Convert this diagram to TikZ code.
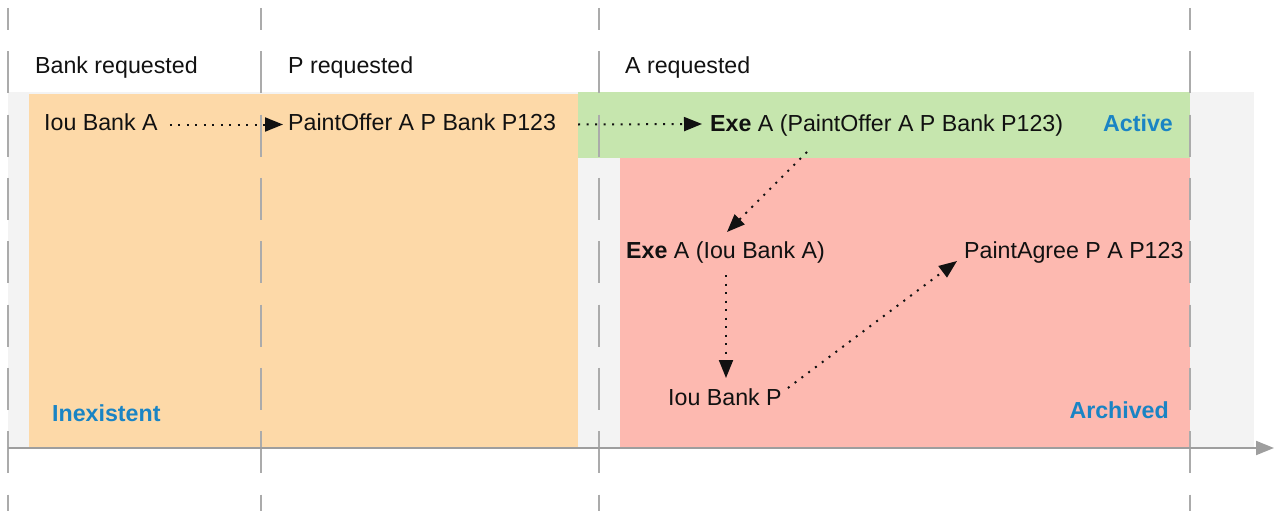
\documentclass[tikz,border=0pt]{standalone}
\usepackage{fontspec}
\setmainfont{Liberation Sans}
\usetikzlibrary{arrows.meta,calc}
\definecolor{bggray}{HTML}{F3F3F3}
\definecolor{orangefill}{HTML}{FDD9A8}
\definecolor{greenfill}{HTML}{C6E6AE}
\definecolor{redfill}{HTML}{FDB9B0}
\definecolor{lblue}{HTML}{1A84C4}
\definecolor{guide}{HTML}{ABABAB}
\definecolor{axisgray}{HTML}{9E9E9E}
\definecolor{ink}{HTML}{111111}
\begin{document}
\begin{tikzpicture}[x=1pt,y=-1pt,
 txt/.style={anchor=base west, inner sep=0pt, font=\fontsize{23.2}{28}\selectfont, text=ink},
 statelabel/.style={anchor=base west, inner sep=0pt, font=\fontsize{23.2}{28}\selectfont\bfseries, text=lblue},
 guideline/.style={draw=guide, line width=1.8pt, dash pattern=on 42pt off 21.33pt, dash phase=20pt},
 flow/.style={draw=ink, line width=2pt, dash pattern=on 2pt off 6.5pt, -{Triangle[length=18pt,width=14pt]}},
 axisline/.style={draw=axisgray, line width=2pt, -{Triangle[length=18pt,width=14pt]}}]
\useasboundingbox (0,0) rectangle (1274,511);
% regions
\fill[bggray] (8,92) rectangle (1254,448);
\fill[orangefill] (29,94) rectangle (578,448);
\fill[greenfill] (578,92) rectangle (1190,158);
\fill[redfill] (620,158) rectangle (1190,448);
% guide lines
\foreach \gx in {8,261,599,1190} \draw[guideline] (\gx,8) -- (\gx,511);
% time axis
\coordinate (axstart) at (8,448);
\coordinate (axend) at (1274,448);
\draw[axisline] (axstart) -- (axend);
% labels
\node[txt] (bankreq) at (35,73.5) {Bank requested};
\node[txt] (preq) at (288,73.5) {P requested};
\node[txt] (areq) at (625,73.5) {A requested};
\node[txt] (iouA) at (44,130.5) {Iou Bank A};
\node[txt] (offer) at (288,130.5) {PaintOffer A P Bank P123};
\node[txt] (exeOffer) at (710,131) {\textbf{Exe} A (PaintOffer A P Bank P123)};
\node[statelabel, anchor=base east] (active) at (1173,131) {Active};
\node[txt] (exeIou) at (626,258) {\textbf{Exe} A (Iou Bank A)};
\node[txt] (agree) at (964,258) {PaintAgree P A P123};
\node[txt] (iouP) at (668,405) {Iou Bank P};
\node[statelabel, anchor=base east] (archived) at (1169,418) {Archived};
\node[statelabel] (inexistent) at (52,421) {Inexistent};
% flows
\draw[flow] ($(iouA.base east)+(12,-6)$) -- ($(offer.base west)+(-5,-6)$);
\draw[flow] ($(offer.base east)+(22,-6)$) -- ($(exeOffer.base west)+(-8,-7)$);
\draw[flow] ($(exeOffer.base west)+(97,21)$) -- ($(exeIou.base west)+(101,-26)$);
\draw[flow] ($(exeIou.base west)+(100,17)$) -- ($(iouP.base west)+(58,-27)$);
\draw[flow] ($(iouP.base east)+(6,-17)$) -- ($(agree.base west)+(-7,3)$);
\end{tikzpicture}
\end{document}
